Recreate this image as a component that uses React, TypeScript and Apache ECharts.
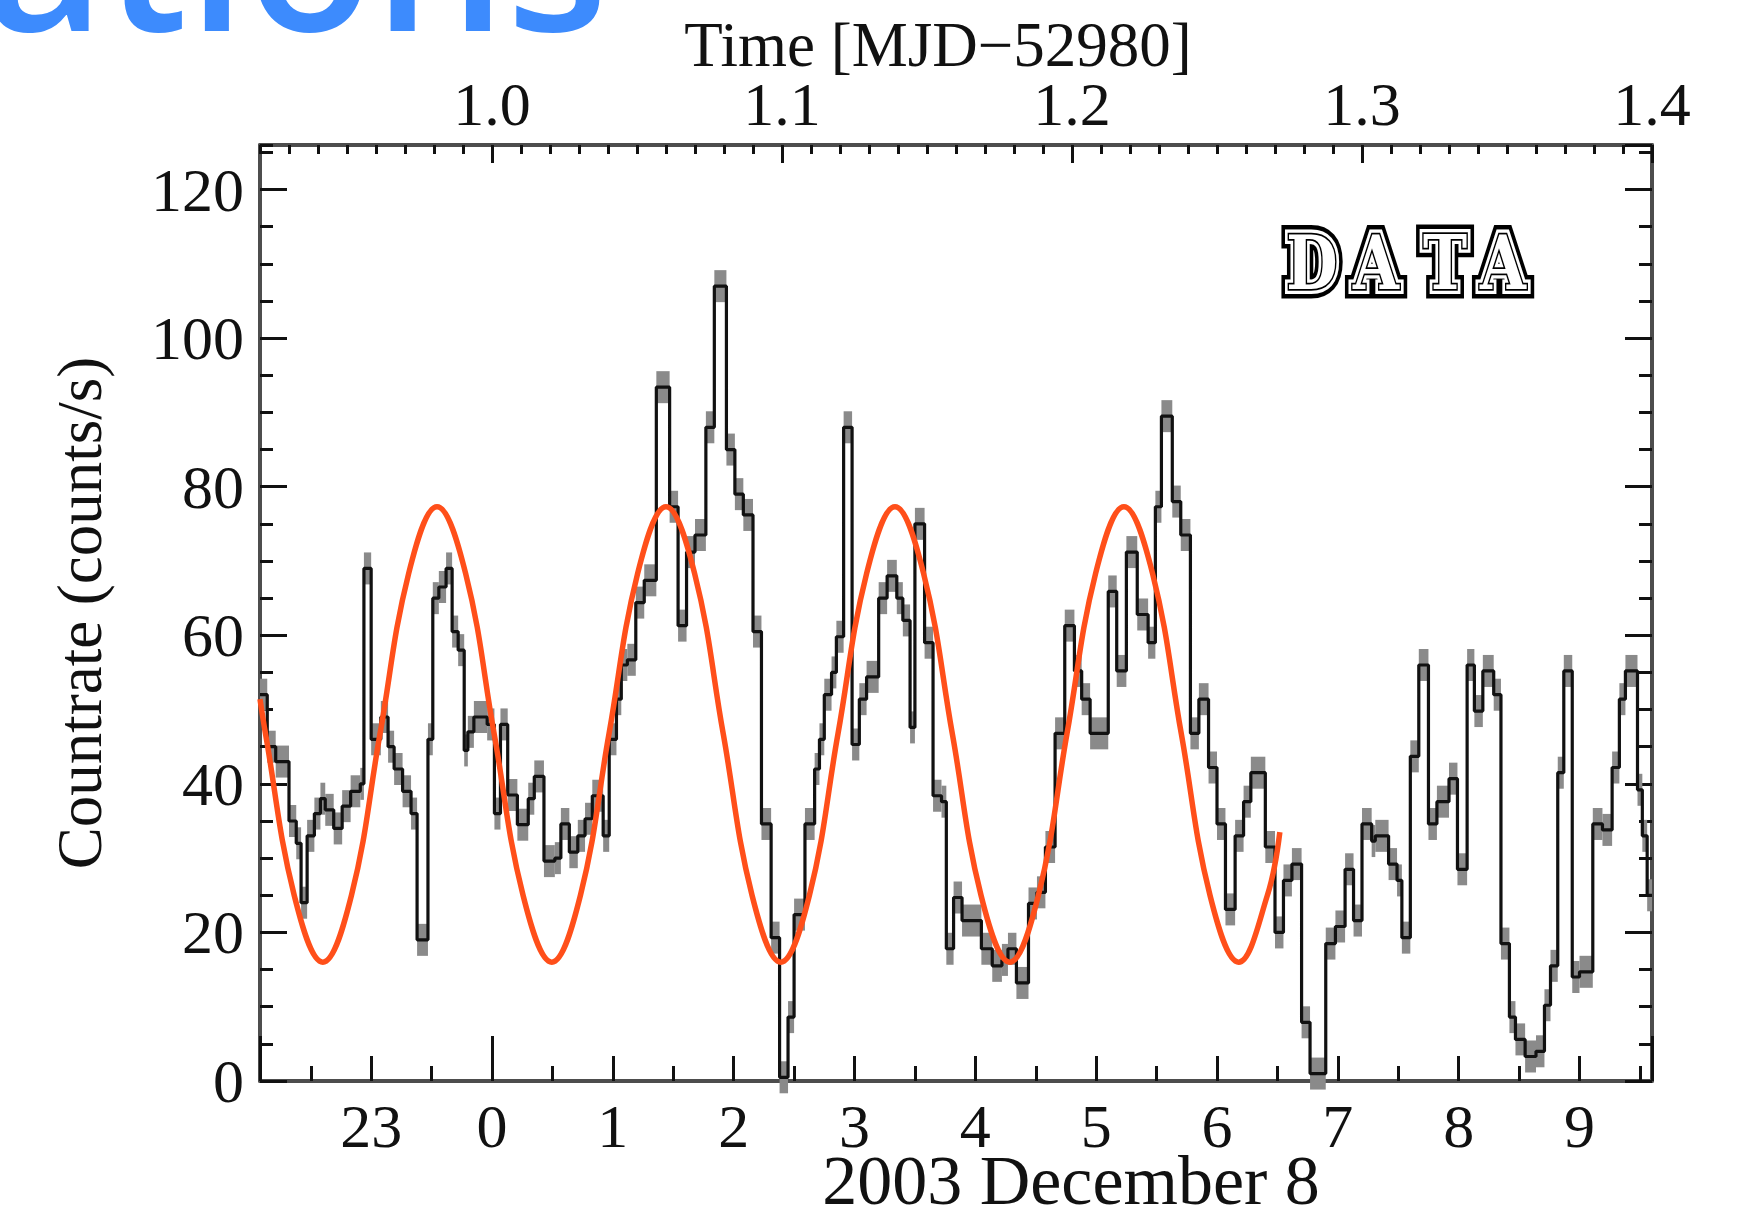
import React, { useEffect, useRef } from "react";
import * as echarts from "echarts";

// X-ray light curve, 2003 December 8: bin start (hours from 0h UT) and countrate
const binStart = [
  -1.92, -1.86, -1.79, -1.68, -1.62, -1.58, -1.53, -1.47, -1.42, -1.38, -1.31, -1.24, -1.17, -1.09, -1.06,
  -1.0, -0.92, -0.86, -0.81, -0.74, -0.67, -0.62, -0.53, -0.49, -0.44, -0.38, -0.33, -0.28, -0.23, -0.2,
  -0.15, -0.04, 0.02, 0.07, 0.13, 0.21, 0.3,
  0.35, 0.43, 0.52, 0.57, 0.64, 0.71, 0.77, 0.83, 0.92, 0.97, 1.03, 1.07, 1.12, 1.19, 1.26, 1.36, 1.47,
  1.54, 1.61, 1.68, 1.77, 1.84, 1.94, 2.01, 2.08, 2.16, 2.23, 2.31, 2.38, 2.45, 2.5, 2.59,
  2.67, 2.71, 2.75, 2.81, 2.85, 2.91, 2.98, 3.04, 3.1, 3.2, 3.27, 3.35, 3.4, 3.46, 3.5, 3.58, 3.65, 3.72,
  3.76, 3.82, 3.89, 4.05, 4.14, 4.22, 4.27, 4.34, 4.44, 4.51, 4.58, 4.66, 4.74, 4.82, 4.88, 4.95,
  5.1, 5.17, 5.25, 5.34, 5.43, 5.49, 5.54, 5.63, 5.7, 5.78, 5.85, 5.93, 6.0, 6.07, 6.15, 6.22, 6.28,
  6.4, 6.48, 6.55, 6.62, 6.7, 6.77, 6.9, 6.98, 7.06, 7.13, 7.2, 7.28,
  7.31, 7.42, 7.49, 7.53, 7.6, 7.67, 7.75, 7.82, 7.92, 7.99, 8.07, 8.13, 8.2, 8.29, 8.35, 8.42, 8.47,
  8.55, 8.64, 8.71, 8.76, 8.82, 8.87, 8.94, 9.0, 9.11, 9.19, 9.27, 9.33, 9.38, 9.48, 9.52, 9.56,
];
const countrate = [
  52, 45, 43, 35, 32, 24, 33, 36, 38, 36.5, 34, 37, 39, 40, 69,
  46, 49, 45, 42, 39, 36, 19, 46, 65, 66.5, 69, 60.5, 58, 44.5, 47,
  49, 48, 36, 48, 38.5, 34.5, 38,
  41, 29.6, 30, 34.6, 30.8, 33, 35.3, 38.4, 33, 46, 51.4, 56, 56.7, 64.4, 67.4, 93.4, 77.3,
  61.3, 71.2, 73.5, 88, 107, 85, 79, 76.2, 60.5, 34.6, 19.3, 0.5, 8.6, 22.4, 34.6,
  42, 46, 52, 55, 59.8, 88, 45.3, 51.4, 54.4, 65, 68, 65, 62, 47.6, 75, 59, 38.4, 37.6,
  17.8, 24.7, 21.6, 17.8, 15.5, 16.3, 17.8, 13.2, 23.9, 25.4, 31.5, 46.8, 61.3, 55.2, 51.4, 46.8,
  65.9, 55.2, 71.2, 62.8, 59, 77.3, 89.5, 78, 73.5, 46.8, 51.4, 42.2, 34.6, 23.1, 33, 37.6, 41.5,
  31.5, 20, 27, 29.2, 7.9, 1, 18.5, 20.8, 28.5, 21.6, 34.6, 32.3,
  33, 29.2, 27, 19.3, 43.7, 56, 34.6, 37.6, 40.7, 28.5, 56, 49.8, 55.2, 52, 18.5, 8.6, 5.6,
  3.3, 4, 10.2, 15.5, 41.5, 55.2, 14, 14.7, 34.6, 33.8, 42.2, 51.4, 55.2, 39.2, 33, 25,
];
const lastBinEnd = 9.6;

// Sinusoidal model overplotted on the light curve (hours, counts/s)
const modelHours = [
  -1.92, -1.874, -1.637, -1.4, -1.163, -0.927, -0.69, -0.455, -0.218, 0.018, 0.257, 0.495, 0.732,
  0.968, 1.205, 1.44, 1.677, 1.914, 2.152, 2.39, 2.627, 2.863, 3.1, 3.335, 3.572, 3.81, 4.047, 4.285,
  4.522, 4.758, 4.995, 5.23, 5.467, 5.705, 5.942, 6.18, 6.417, 6.52,
];
const modelRate = [
  51.4, 46.7, 25.0, 16.0, 25.0, 46.7, 68.3, 77.3, 68.3, 46.7, 25.0, 16.0, 25.0,
  46.7, 68.3, 77.3, 68.3, 46.7, 25.0, 16.0, 25.0, 46.7, 68.3, 77.3, 68.3, 46.7, 25.0, 16.0,
  25.0, 46.7, 68.3, 77.3, 68.3, 46.7, 25.0, 16.0, 25.0, 33.5,
];

// Axis ranges: hours of Dec 8 below, MJD-52980 above (1 day = 24 h)
const hourMin = -1.92;
const hourMax = 9.6;
const mjdMin = 0.92;
const mjdMax = 1.4;
const rateMin = 0;
const rateMax = 126;

// Letters of the "DATA" tag with their centre x
const tagLetters = ["D", "A", "T", "A"];
const tagCenters = [1312, 1376, 1445, 1503];

const SERIF = '"Liberation Serif", "Times New Roman", serif';
const INK = "#111";
const FRAME = "#4d4d4d";

const hourLabel = (v: number) => {
  const h = Math.round(v);
  return String(h < 0 ? h + 24 : h);
};

function tagLetter(ch: string, cx: number) {
  const font = 'bold 74px "DejaVu Serif"';
  const base = { text: ch, font, align: "center", verticalAlign: "middle" };
  return {
    type: "group",
    x: cx,
    y: 263,
    scaleX: 0.8,
    children: [
      { type: "text", style: { ...base, fill: "#000", stroke: "#000", lineWidth: 19 } },
      { type: "text", style: { ...base, fill: "#fff", stroke: "#fff", lineWidth: 10 } },
      { type: "text", style: { ...base, fill: "#fff", stroke: "#000", lineWidth: 3.5 } },
    ],
  };
}

function buildOption() {
  const stepData = binStart.map((x, i) => [x, countrate[i]]);
  stepData.push([lastBinEnd, countrate[countrate.length - 1]]);
  const bins = binStart.map((x, i) => [x, i + 1 < binStart.length ? binStart[i + 1] : lastBinEnd, countrate[i]]);
  const model = modelHours.map((x, i) => [x, modelRate[i]]);

  const tickStyle = { color: INK, width: 3 };
  const labelStyle = { fontFamily: SERIF, fontSize: 62, lineHeight: 46, color: INK };
  const noSplit = { show: false };

  return {
    animation: false,
    backgroundColor: "#fff",
    textStyle: { fontFamily: SERIF },
    grid: { left: 260, right: 101, top: 145, bottom: 136, containLabel: false, outerBoundsMode: "none" },
    xAxis: [
      {
        type: "value",
        position: "bottom",
        min: hourMin,
        max: hourMax,
        splitNumber: 11,
        axisLine: { show: true, onZero: false, lineStyle: { color: FRAME, width: 4 } },
        axisTick: { show: true, inside: true, length: 25, lineStyle: tickStyle },
        minorTick: { show: true, splitNumber: 2, length: 15, lineStyle: tickStyle },
        axisLabel: { ...labelStyle, margin: 22, showMinLabel: false, showMaxLabel: false, formatter: hourLabel },
        splitLine: noSplit,
        minorSplitLine: noSplit,
      },
      {
        // long tick marking midnight
        type: "value",
        position: "bottom",
        min: hourMin,
        max: hourMax,
        splitNumber: 1,
        axisLine: { show: false, onZero: false },
        axisTick: { show: true, inside: true, length: 45, lineStyle: tickStyle },
        axisLabel: { show: false },
        splitLine: noSplit,
      },
      {
        type: "value",
        position: "top",
        min: mjdMin,
        max: mjdMax,
        interval: 0.01,
        axisLine: { show: true, onZero: false, lineStyle: { color: FRAME, width: 4 } },
        axisTick: { show: true, inside: true, length: 9, lineStyle: tickStyle },
        axisLabel: { show: false },
        splitLine: noSplit,
      },
      {
        type: "value",
        position: "top",
        min: mjdMin,
        max: mjdMax,
        splitNumber: 5,
        axisLine: { show: false, onZero: false },
        axisTick: { show: true, inside: true, length: 18, lineStyle: tickStyle },
        axisLabel: { ...labelStyle, margin: 18, showMinLabel: false, formatter: (v: number) => v.toFixed(1) },
        splitLine: noSplit,
      },
    ],
    yAxis: [
      {
        type: "value",
        position: "left",
        min: rateMin,
        max: rateMax,
        interval: 20,
        name: "Countrate (counts/s)",
        nameLocation: "middle",
        nameGap: 156,
        nameTextStyle: { fontFamily: SERIF, fontSize: 63, lineHeight: 48, color: INK },
        axisLine: { show: true, onZero: false, lineStyle: { color: FRAME, width: 4 } },
        axisTick: { show: true, inside: true, length: 27, lineStyle: tickStyle },
        axisLabel: { ...labelStyle, margin: 16, showMaxLabel: false },
        splitLine: noSplit,
      },
      {
        type: "value",
        position: "left",
        min: rateMin,
        max: rateMax,
        interval: 5,
        axisLine: { show: false, onZero: false },
        axisTick: { show: true, inside: true, length: 13, lineStyle: tickStyle },
        axisLabel: { show: false },
        splitLine: noSplit,
      },
      {
        type: "value",
        position: "right",
        min: rateMin,
        max: rateMax,
        interval: 20,
        axisLine: { show: true, onZero: false, lineStyle: { color: FRAME, width: 4 } },
        axisTick: { show: true, inside: true, length: 27, lineStyle: tickStyle },
        axisLabel: { show: false },
        splitLine: noSplit,
      },
      {
        type: "value",
        position: "right",
        min: rateMin,
        max: rateMax,
        interval: 5,
        axisLine: { show: false, onZero: false },
        axisTick: { show: true, inside: true, length: 13, lineStyle: tickStyle },
        axisLabel: { show: false },
        splitLine: noSplit,
      },
    ],
    series: [
      {
        // error band of each bin
        type: "custom",
        xAxisIndex: 0,
        yAxisIndex: 0,
        silent: true,
        data: bins,
        renderItem: (params: any, api: any) => {
          const p0 = api.coord([api.value(0), api.value(2)]);
          const p1 = api.coord([api.value(1), api.value(2)]);
          const half = 16;
          return {
            type: "rect",
            shape: { x: p0[0], y: p0[1] - half, width: p1[0] - p0[0], height: half * 2 },
            style: { fill: "#8a8a8a" },
          };
        },
        z: 2,
      },
      {
        type: "line",
        xAxisIndex: 0,
        yAxisIndex: 0,
        step: "end",
        data: stepData,
        showSymbol: false,
        symbol: "none",
        lineStyle: { color: INK, width: 3.2 },
        z: 3,
      },
      {
        type: "line",
        xAxisIndex: 0,
        yAxisIndex: 0,
        data: model,
        smooth: 0.4,
        showSymbol: false,
        symbol: "none",
        lineStyle: { color: "#ff4f1a", width: 5.5 },
        z: 4,
      },
    ],
    graphic: [
      {
        type: "text",
        x: 938,
        y: 45,
        style: { text: "Time [MJD\u221252980]", font: `63px ${SERIF}`, lineHeight: 48, fill: INK, align: "center", verticalAlign: "middle" },
      },
      {
        type: "text",
        x: 1071,
        y: 1180,
        style: { text: "2003 December 8", font: `70px ${SERIF}`, lineHeight: 48, fill: INK, align: "center", verticalAlign: "middle" },
      },
      {
        type: "text",
        x: 608,
        y: -50,
        style: { text: "ations", font: '600 209px "Open Sans"', fill: "#3d8bfd", align: "right", verticalAlign: "middle" },
      },
      ...tagLetters.map((ch, i) => tagLetter(ch, tagCenters[i])),
    ],
  };
}

export default function App() {
  const ref = useRef<HTMLDivElement>(null);
  useEffect(() => {
    if (!ref.current) return;
    const chart = echarts.init(ref.current, undefined, { renderer: "svg" });
    chart.setOption(buildOption() as any);
    return () => chart.dispose();
  }, []);
  return (
    <div
      ref={ref}
      style={{ position: "absolute", left: 0, top: 0, width: 1753, height: 1217, background: "#fff" }}
    />
  );
}
